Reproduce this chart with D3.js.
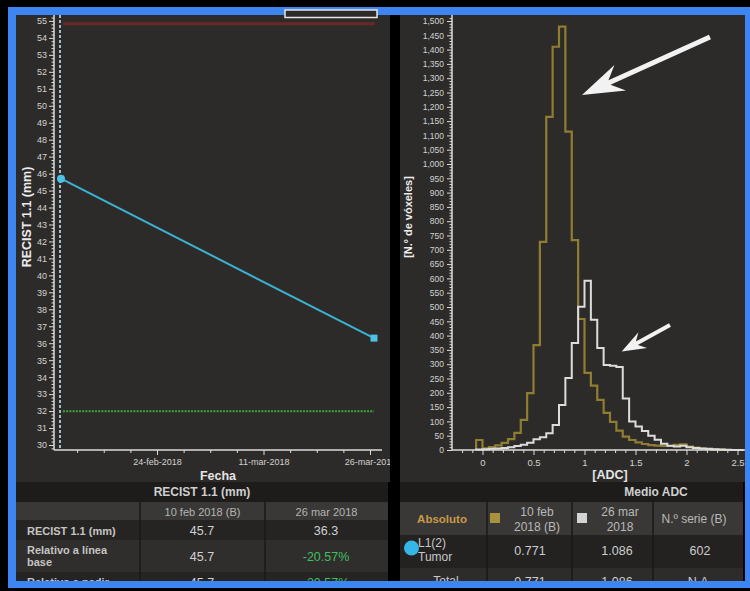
<!DOCTYPE html>
<html><head><meta charset="utf-8">
<script src="https://cdn.jsdelivr.net/npm/d3@7"></script>
<style>body{margin:0;background:#000;} svg{display:block;font-family:"Liberation Sans",Arial,sans-serif;}</style>
</head><body><svg id="c" width="750" height="591"></svg>
<script>
// ---------- DATA ----------
const recistDates = ["2018-02-10T11:30", "2018-03-26T13:30"];
const recistValues = [45.7, 36.3];
const progressionThreshold = 54.84;   // nadir +20%
const responseThreshold = 31.99;      // baseline -30%
const recistYTicks = d3.range(30, 56);
const recistXTickDates = ["2018-02-24T00:00", "2018-03-11T00:00", "2018-03-26T00:00"];
const recistXTickLabels = ["24-feb-2018", "11-mar-2018", "26-mar-2018"];

const adcBinStart = -0.0625;
const adcBinWidth = 0.0625;
const countsFeb = [35, 6, 10, 16, 25, 38, 60, 105, 199, 367, 728, 1165, 1410, 1480, 1113, 734, 458, 270, 225, 175, 130, 98, 68, 47, 35, 27, 21, 17, 15, 14, 14, 18, 20, 12, 8, 5, 3, 2, 1];
const countsMar = [2, 3, 4, 5, 7, 10, 14, 18, 25, 38, 45, 59, 87, 157, 252, 374, 501, 592, 455, 357, 297, 295, 290, 180, 100, 82, 66, 50, 36, 22, 15, 12, 15, 10, 7, 5, 4, 3, 2, 1];
const adcXTicks = [0, 0.5, 1, 1.5, 2, 2.5];
const adcYTicks = d3.range(0, 1501, 50);
const arrowBig = [[2.23, 1444], [0.975, 1241]];
const arrowSmall = [[1.838, 437], [1.365, 344]];

const recistTableTitle = "RECIST 1.1 (mm)";
const recistColHeaders = ["", "10 feb 2018 (B)", "26 mar 2018"];
const recistRowLabels = [["RECIST 1.1 (mm)"], ["Relativo a línea", "base"], ["Relativo a nadir"]];
const recistBaseCol = ["45.7", "45.7", "45.7"];
const recistFollowCol = ["36.3", "-20.57%", "-20.57%"];

const adcTableTitle = "Medio ADC";
const adcColHeaders = [["Absoluto"], ["10 feb", "2018 (B)"], ["26 mar", "2018"], ["N.º serie (B)"]];
const adcRowLabels = [["L1(2)", "Tumor"], ["Total"]];
const adcFebCol = ["0.771", "0.771"];
const adcMarCol = ["1.086", "1.086"];
const adcSerieCol = ["602", "N.A."];

// ---------- SETUP ----------
const svg = d3.select("#c");
const panelBg = "#2d2b29", axisColor = "#dcdcdc", tickText = "#d2d2d2";
const FONT = "Liberation Sans, Arial, sans-serif";
const defs = svg.append("defs");
defs.append("clipPath").attr("id", "clipL").append("rect").attr("x", 16).attr("y", 15).attr("width", 374).attr("height", 566);
defs.append("clipPath").attr("id", "clipR").append("rect").attr("x", 400).attr("y", 15).attr("width", 345).attr("height", 566);

svg.append("rect").attr("x", 16).attr("y", 15).attr("width", 374).attr("height", 467).attr("fill", panelBg);
svg.append("rect").attr("x", 400).attr("y", 15).attr("width", 345).attr("height", 467).attr("fill", panelBg);

// ---------- LEFT CHART ----------
const parseT = d3.timeParse("%Y-%m-%dT%H:%M");
const tickDates = recistXTickDates.map(parseT);
const ptDates = recistDates.map(parseT);
const xR = d3.scaleTime().domain([tickDates[0], tickDates[2]]).range([157, 370]);
const yR = d3.scaleLinear().domain([29.705, 55.35]).range([450, 15]);
const gL = svg.append("g").attr("clip-path", "url(#clipL)");
const axL = 54;

function styleAxis(g, size) {
  g.attr("font-family", FONT).attr("font-size", size);
  g.select(".domain").remove();
  g.selectAll("line").attr("stroke", axisColor);
  g.selectAll("text").attr("fill", tickText);
}
// minor y ticks
const minorYL = d3.range(29.8, 55.31, 0.2).filter(v => Math.abs(v - Math.round(v)) > 0.01);
styleAxis(gL.append("g").attr("transform", `translate(${axL},0)`)
  .call(d3.axisLeft(yR).tickValues(minorYL).tickSize(2.5).tickFormat("")), 9);
styleAxis(gL.append("g").attr("transform", `translate(${axL},0)`)
  .call(d3.axisLeft(yR).tickValues(recistYTicks).tickSize(5).tickPadding(2).tickFormat(d3.format("d"))), 9);
// x ticks
const minorXL = d3.range(-3, 9).filter(j => j % 4 !== 0).map(j => d3.timeHour.offset(tickDates[0], j * 90));
styleAxis(gL.append("g").attr("transform", `translate(0,450)`)
  .call(d3.axisBottom(xR).tickValues(minorXL).tickSize(3).tickFormat("")), 9);
styleAxis(gL.append("g").attr("transform", `translate(0,450)`)
  .call(d3.axisBottom(xR).tickValues(tickDates).tickSize(5).tickPadding(4).tickFormat((d, i) => recistXTickLabels[i])), 9);
// axis lines
gL.append("line").attr("x1", axL).attr("x2", axL).attr("y1", yR.range()[1]).attr("y2", yR.range()[0]).attr("stroke", axisColor).attr("stroke-width", 1.5);
gL.append("line").attr("x1", axL).attr("x2", 382).attr("y1", 450).attr("y2", 450).attr("stroke", axisColor).attr("stroke-width", 1.5);
// baseline dashed vertical
gL.append("line").attr("x1", xR(ptDates[0]) - 1).attr("x2", xR(ptDates[0]) - 1).attr("y1", yR.range()[1]).attr("y2", yR.range()[0])
  .attr("stroke", "#bfe3f2").attr("stroke-width", 1.6).attr("stroke-dasharray", "3,2");
// thresholds
gL.append("line").attr("x1", xR(ptDates[0]) + 2).attr("x2", xR(ptDates[1]) + 1)
  .attr("y1", yR(progressionThreshold)).attr("y2", yR(progressionThreshold)).attr("stroke", "#6c2828").attr("stroke-width", 3);
gL.append("line").attr("x1", xR(ptDates[0]) + 2).attr("x2", xR(ptDates[1]))
  .attr("y1", yR(responseThreshold)).attr("y2", yR(responseThreshold)).attr("stroke", "#3aa83a").attr("stroke-width", 2).attr("stroke-dasharray", "2,1.2");
// series
const recistPts = recistValues.map((v, i) => ({ d: ptDates[i], v }));
gL.append("path").datum(recistPts).attr("fill", "none").attr("stroke", "#3cb2d2").attr("stroke-width", 2)
  .attr("d", d3.line().x(p => xR(p.d)).y(p => yR(p.v)));
gL.append("circle").attr("cx", xR(recistPts[0].d)).attr("cy", yR(recistPts[0].v)).attr("r", 4).attr("fill", "#4cc2e4");
gL.append("rect").attr("x", xR(recistPts[1].d) - 3.5).attr("y", yR(recistPts[1].v) - 3.5).attr("width", 7).attr("height", 7).attr("fill", "#4cc2e4");
// labels
gL.append("text").attr("transform", "translate(31,217) rotate(-90)").attr("text-anchor", "middle")
  .attr("font-size", 12.5).attr("font-weight", "bold").attr("fill", "#ececec").text("RECIST 1.1 (mm)");
gL.append("text").attr("x", 218).attr("y", 480).attr("text-anchor", "middle")
  .attr("font-size", 12.5).attr("font-weight", "bold").attr("fill", "#e4e4e4").text("Fecha");

// ---------- RIGHT CHART ----------
const xA = d3.scaleLinear().domain([0, 2.5]).range([482.5, 737.5]);
const yA = d3.scaleLinear().domain([0, 1500]).range([450, 21]);
const gR = svg.append("g").attr("clip-path", "url(#clipR)");
const axR = 452;
const minorYR = d3.range(10, 1520, 10).filter(v => v % 50 !== 0);
styleAxis(gR.append("g").attr("transform", `translate(${axR},0)`)
  .call(d3.axisLeft(yA).tickValues(minorYR).tickSize(2.5).tickFormat("")), 8.5);
styleAxis(gR.append("g").attr("transform", `translate(${axR},0)`)
  .call(d3.axisLeft(yA).tickValues(adcYTicks).tickSize(5).tickPadding(3).tickFormat(d3.format(","))), 8.5);
const minorXR = d3.range(-2, 26).filter(k => k % 5 !== 0).map(k => k / 10);
styleAxis(gR.append("g").attr("transform", `translate(0,450)`)
  .call(d3.axisBottom(xA).tickValues(minorXR).tickSize(3).tickFormat("")), 9.5);
styleAxis(gR.append("g").attr("transform", `translate(0,450)`)
  .call(d3.axisBottom(xA).tickValues(adcXTicks).tickSize(5).tickPadding(4).tickFormat(d3.format(""))), 9.5);

function histPoints(counts) {
  const pts = [[adcBinStart, 0]];
  counts.forEach((c, i) => pts.push([adcBinStart + i * adcBinWidth, c]));
  pts.push([adcBinStart + counts.length * adcBinWidth, 0]);
  pts.push([2.56, 0]);
  return pts;
}
const stepLine = d3.line().x(d => xA(d[0])).y(d => yA(d[1])).curve(d3.curveStepAfter);
gR.append("path").datum(histPoints(countsFeb)).attr("fill", "none").attr("stroke", "#8f7e31").attr("stroke-width", 2.2).attr("d", stepLine);
gR.append("path").datum(histPoints(countsMar)).attr("fill", "none").attr("stroke", "#dcdcdc").attr("stroke-width", 2).attr("d", stepLine);

gR.append("line").attr("x1", axR).attr("x2", axR).attr("y1", 15).attr("y2", 450).attr("stroke", axisColor).attr("stroke-width", 1.5);
gR.append("line").attr("x1", axR).attr("x2", 745).attr("y1", 450).attr("y2", 450).attr("stroke", axisColor).attr("stroke-width", 1.5);

// arrows
function arrow(pair, shaftW, headL, headW) {
  const [x1, y1] = [xA(pair[0][0]), yA(pair[0][1])];
  const [x2, y2] = [xA(pair[1][0]), yA(pair[1][1])];
  const dx = x2 - x1, dy = y2 - y1, L = Math.hypot(dx, dy);
  const ux = dx / L, uy = dy / L, nx = -uy, ny = ux;
  const bx = x2 - ux * headL, by = y2 - uy * headL;       // barb base
  const kx = x2 - ux * headL * 0.72, ky = y2 - uy * headL * 0.72; // notch
  const pts = [
    [x1 + nx * shaftW / 2, y1 + ny * shaftW / 2],
    [kx + nx * shaftW / 2, ky + ny * shaftW / 2],
    [bx + nx * headW, by + ny * headW],
    [x2, y2],
    [bx - nx * headW, by - ny * headW],
    [kx - nx * shaftW / 2, ky - ny * shaftW / 2],
    [x1 - nx * shaftW / 2, y1 - ny * shaftW / 2]
  ];
  gR.append("path").attr("d", "M" + pts.map(p => p.join(",")).join("L") + "Z").attr("fill", "#f2f2f2");
}
arrow(arrowBig, 5, 42, 14);
arrow(arrowSmall, 4, 24, 9);

gR.append("text").attr("transform", "translate(412,217) rotate(-90)").attr("text-anchor", "middle")
  .attr("font-size", 11).attr("font-weight", "bold").attr("fill", "#ececec").text("[N.º de vóxeles]");
gR.append("text").attr("x", 610).attr("y", 479).attr("text-anchor", "middle")
  .attr("font-size", 12.5).attr("font-weight", "bold").attr("fill", "#e4e4e4").text("[ADC]");

// ---------- LEFT TABLE ----------
const tL = svg.append("g").attr("clip-path", "url(#clipL)").attr("font-family", FONT);
const colL = [16, 140, 265, 388];
const rowL = [[482, 502, "#1d1c1b"], [502, 520, "#3a3836"], [520, 540, "#252423"], [540, 572, "#302e2c"], [572, 600, "#252423"]];
rowL.forEach(r => tL.append("rect").attr("x", colL[0]).attr("y", r[0]).attr("width", colL[3] - colL[0]).attr("height", r[1] - r[0]).attr("fill", r[2]));
[colL[1], colL[2]].forEach(x => tL.append("line").attr("x1", x).attr("x2", x).attr("y1", 502).attr("y2", 600).attr("stroke", "#1a1918").attr("stroke-width", 1.5));
tL.append("text").attr("x", 202).attr("y", 496).attr("text-anchor", "middle").attr("font-size", 12).attr("font-weight", "bold").attr("fill", "#cfcfcf").text(recistTableTitle);
recistColHeaders.forEach((h, i) => tL.append("text").attr("x", (colL[i] + colL[i + 1]) / 2).attr("y", 515.5)
  .attr("text-anchor", "middle").attr("font-size", 11).attr("fill", "#b4b4b4").text(h));
const rowCentersL = [530.5, 556, 582];
recistRowLabels.forEach((lines, i) => {
  lines.forEach((ln, j) => tL.append("text").attr("x", 27).attr("y", rowCentersL[i] + 4 + (j - (lines.length - 1) / 2) * 11.5)
    .attr("font-size", 11).attr("font-weight", "bold").attr("fill", "#c4c4c4").text(ln));
  tL.append("text").attr("x", 202).attr("y", rowCentersL[i] + 4.5).attr("text-anchor", "middle").attr("font-size", 12.5).attr("fill", "#d0d0d0").text(recistBaseCol[i]);
  const v = recistFollowCol[i];
  tL.append("text").attr("x", 326).attr("y", rowCentersL[i] + 4.5).attr("text-anchor", "middle").attr("font-size", 12.5)
    .attr("fill", v.startsWith("-") && v.endsWith("%") ? "#3fbf5f" : "#d0d0d0").text(v);
});

// ---------- RIGHT TABLE ----------
const tR = svg.append("g").attr("clip-path", "url(#clipR)").attr("font-family", FONT);
const colR = [400, 487, 572, 653, 743];
const rowR = [[482, 502, "#1d1c1b"], [502, 535, "#3a3836"], [535, 568, "#232221"], [568, 600, "#2e2c2a"]];
rowR.forEach(r => tR.append("rect").attr("x", colR[0]).attr("y", r[0]).attr("width", colR[4] - colR[0]).attr("height", r[1] - r[0]).attr("fill", r[2]));
colR.slice(1, 4).forEach(x => tR.append("line").attr("x1", x).attr("x2", x).attr("y1", 502).attr("y2", 600).attr("stroke", "#1a1918").attr("stroke-width", 1.5));
tR.append("text").attr("x", 656).attr("y", 496).attr("text-anchor", "middle").attr("font-size", 12).attr("font-weight", "bold").attr("fill", "#cfcfcf").text(adcTableTitle);
const headerCx = [442, 537, 620, 694];
adcColHeaders.forEach((lines, i) => {
  lines.forEach((ln, j) => tR.append("text").attr("x", headerCx[i]).attr("y", 523 + (j - (lines.length - 1) / 2) * 15)
    .attr("text-anchor", "middle").attr("font-size", i === 0 ? 11.5 : 12).attr("font-weight", i === 0 ? "bold" : "normal")
    .attr("fill", i === 0 ? "#c99a48" : "#b8b8b8").text(ln));
});
tR.append("rect").attr("x", 490).attr("y", 513).attr("width", 10).attr("height", 10).attr("fill", "#a8923c");
tR.append("rect").attr("x", 577).attr("y", 513).attr("width", 10).attr("height", 10).attr("fill", "#d4d4d4");
const rowCentersR = [550, 581];
adcRowLabels.forEach((lines, i) => {
  if (lines.length > 1) {
    tR.append("circle").attr("cx", 411.5).attr("cy", 548).attr("r", 7.5).attr("fill", "#36b6e6");
    lines.forEach((ln, j) => tR.append("text").attr("x", 418).attr("y", rowCentersR[i] + 4 + (j - 0.5) * 14.5)
      .attr("font-size", 12).attr("fill", "#c8c8c8").text(ln));
  } else {
    tR.append("text").attr("x", 446).attr("y", rowCentersR[i] + 4).attr("text-anchor", "middle").attr("font-size", 12).attr("fill", "#c8c8c8").text(lines[0]);
  }
  [[530, adcFebCol], [617, adcMarCol], [700, adcSerieCol]].forEach(([cx, col]) =>
    tR.append("text").attr("x", cx).attr("y", rowCentersR[i] + 4.5).attr("text-anchor", "middle").attr("font-size", 12.5).attr("fill", "#cdcdcd").text(col[i]));
});

// ---------- FRAME ----------
const blue = "#3d86f2";
svg.append("rect").attr("x", 8).attr("y", 7).attr("width", 742).attr("height", 8).attr("fill", blue);
svg.append("rect").attr("x", 8).attr("y", 7).attr("width", 8).attr("height", 581).attr("fill", blue);
svg.append("rect").attr("x", 8).attr("y", 581).attr("width", 742).attr("height", 7).attr("fill", blue);
svg.append("rect").attr("x", 745).attr("y", 7).attr("width", 5).attr("height", 581).attr("fill", blue);
svg.append("rect").attr("x", 0).attr("y", 588).attr("width", 750).attr("height", 3).attr("fill", "#000");
// clipped legend box at top of left chart
svg.append("rect").attr("x", 285).attr("y", 10).attr("width", 92).attr("height", 7.5).attr("fill", panelBg).attr("stroke", "#e6e6e6").attr("stroke-width", 1.5);
</script></body></html>
